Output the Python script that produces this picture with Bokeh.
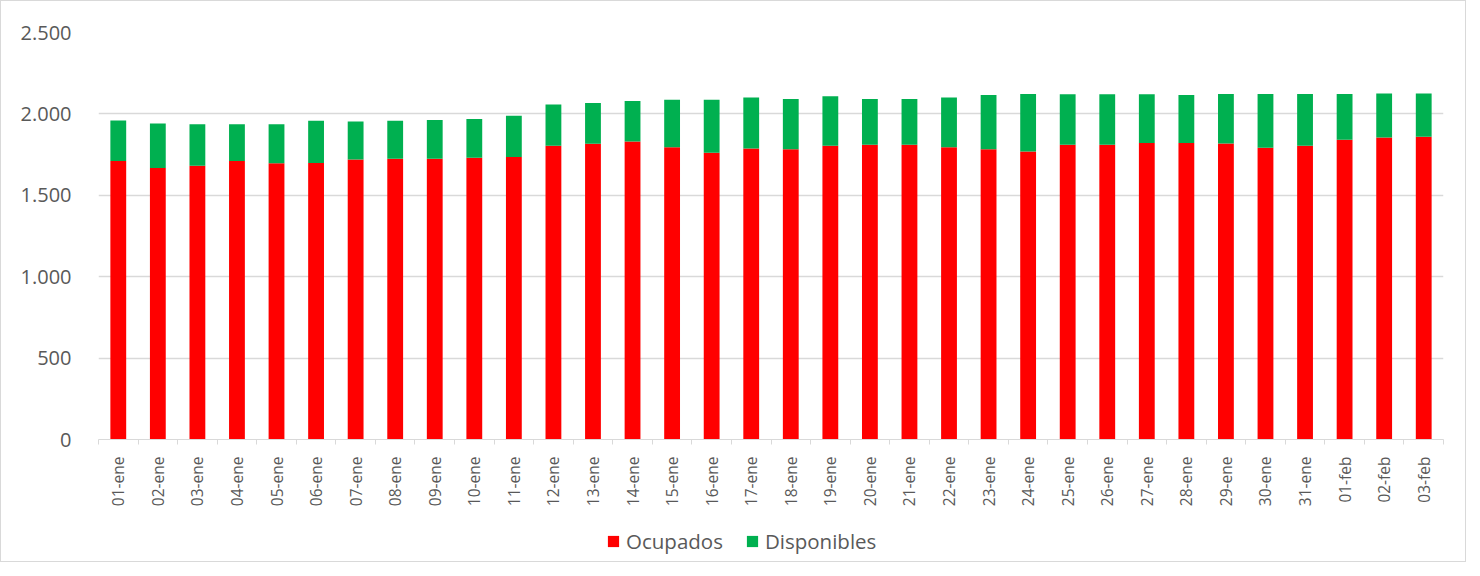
import numpy as np
from bokeh.plotting import figure
from bokeh.layouts import column
from bokeh.models import (Range1d, FixedTicker, Legend, LegendItem)
from bokeh.embed import file_html
from bokeh.resources import INLINE

dias = ["01-ene", "02-ene", "03-ene", "04-ene", "05-ene", "06-ene", "07-ene", "08-ene",
        "09-ene", "10-ene", "11-ene", "12-ene", "13-ene", "14-ene", "15-ene", "16-ene",
        "17-ene", "18-ene", "19-ene", "20-ene", "21-ene", "22-ene", "23-ene", "24-ene",
        "25-ene", "26-ene", "27-ene", "28-ene", "29-ene", "30-ene", "31-ene", "01-feb",
        "02-feb", "03-feb"]
totales = [1960, 1941, 1937, 1937, 1937, 1958, 1954, 1958, 1962, 1968, 1989,
           2057, 2067, 2079, 2087, 2087, 2100, 2091, 2108, 2091, 2091, 2100,
           2116, 2122, 2120, 2120, 2120, 2116, 2122, 2122, 2122, 2122, 2126, 2126]
ocupados = [1711, 1668, 1681, 1711, 1697, 1699, 1720, 1724, 1724, 1730, 1736,
            1804, 1816, 1830, 1795, 1761, 1787, 1783, 1804, 1810, 1810, 1795,
            1783, 1769, 1810, 1810, 1822, 1822, 1818, 1792, 1804, 1841, 1855, 1859]
disponibles = [t - o for t, o in zip(totales, ocupados)]
y_ticks = [0, 500, 1000, 1500, 2000, 2500]
series = ["Ocupados", "Disponibles"]
colores = ["#ff0000", "#00b050"]

n = len(dias)
xs = np.arange(n, dtype=float)
source = dict(x=xs, Ocupados=ocupados, Disponibles=disponibles)

FONT = "Open Sans"
GREY_TXT = "#595959"
GRID = "#d9d9d9"

p = figure(width=1464, height=520, output_backend="svg", toolbar_location=None,
           x_range=Range1d(-0.5, n - 0.5), y_range=Range1d(0, 2500),
           min_border_left=97, min_border_right=22, min_border_top=31,
           min_border_bottom=82)
p.outline_line_color = None

p.vbar_stack(series, x="x", width=0.4, source=source,
             color=colores, line_color=None)

# x axis: labels at centres, tick marks between categories
xaxis = p.xaxis[0]
xaxis.ticker = FixedTicker(ticks=list(xs), minor_ticks=list(xs - 0.5) + [n - 0.5])
xaxis.major_label_overrides = {float(x): d for x, d in zip(xs, dias)}
xaxis.major_label_orientation = np.pi / 2
xaxis.major_tick_line_color = None
xaxis.minor_tick_line_color = GRID
xaxis.minor_tick_in = 0
xaxis.minor_tick_out = 5
xaxis.axis_line_color = GRID
xaxis.major_label_standoff = 11
xaxis.major_label_text_font = FONT
xaxis.major_label_text_font_size = "15.5px"
xaxis.major_label_text_color = GREY_TXT

yaxis = p.yaxis[0]
yaxis.ticker = FixedTicker(ticks=y_ticks)
yaxis.major_label_overrides = {v: f"{v:,}".replace(",", ".") for v in y_ticks}
yaxis.axis_line_color = None
yaxis.major_tick_line_color = None
yaxis.minor_tick_line_color = None
yaxis.major_label_standoff = 21
yaxis.major_label_text_font = FONT
yaxis.major_label_text_font_size = "20px"
yaxis.major_label_text_color = GREY_TXT

p.xgrid.grid_line_color = None
p.ygrid.grid_line_color = GRID
p.ygrid.grid_line_width = 1.5

# legend strip below the chart (proxy renderers of zero width, used only for the key)
lf = figure(width=1464, height=40, output_backend="svg", toolbar_location=None,
            x_range=Range1d(-0.5, n - 0.5), y_range=Range1d(0, 2500),
            min_border_left=0, min_border_right=0, min_border_top=0,
            min_border_bottom=0)
lf.axis.visible = False
lf.grid.visible = False
lf.outline_line_color = None
items = []
for name, col in zip(series, colores):
    rr = lf.vbar(x=xs, top=source[name], width=0, fill_color=col, line_color=None)
    items.append(LegendItem(label=name, renderers=[rr]))
legend = Legend(items=items, orientation="horizontal", location=(508, 6),
                glyph_width=14, glyph_height=14, label_standoff=6, spacing=22,
                padding=0, margin=0, border_line_color=None,
                background_fill_alpha=0,
                label_text_font=FONT, label_text_font_size="20.5px",
                label_text_color=GREY_TXT)
lf.add_layout(legend, "center")

page = column(p, lf, spacing=0,
              styles={"border": "1px solid #d9d9d9", "box-sizing": "border-box"})

open("out.html", "w").write(file_html(page, INLINE))
